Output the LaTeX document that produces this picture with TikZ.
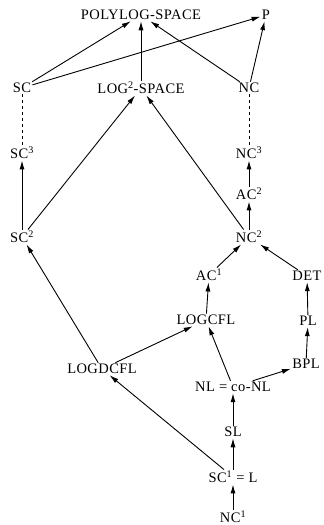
\documentclass[tikz,border=0pt]{standalone}
\usepackage{fontspec}
\setmainfont{Liberation Serif}[LetterSpace=3]
\usetikzlibrary{arrows.meta}
\begin{document}
\begin{tikzpicture}[x=1pt,y=1pt,
  cls/.style={inner sep=1.2pt, font=\fontsize{14.5}{16}\selectfont},
  arr/.style={-{Latex[length=9pt,width=5pt]}, line width=0.9pt},
  dsh/.style={dashed, line width=0.7pt}]
\useasboundingbox (0,0) rectangle (324,525);
\node[cls] (poly) at (141,510) {POLYLOG-SPACE};
\node[cls] (P) at (266,510) {P};
\node[cls] (SC) at (22,437) {SC};
\node[cls] (log2) at (141,437) {LOG\textsuperscript{2}-SPACE};
\node[cls] (NC) at (249,437) {NC};
\node[cls] (SC3) at (22,372) {SC\textsuperscript{3}};
\node[cls] (NC3) at (249,372) {NC\textsuperscript{3}};
\node[cls] (AC2) at (249,331) {AC\textsuperscript{2}};
\node[cls] (SC2) at (22,288) {SC\textsuperscript{2}};
\node[cls] (NC2) at (249,288) {NC\textsuperscript{2}};
\node[cls] (AC1) at (209,250) {AC\textsuperscript{1}};
\node[cls] (DET) at (307,249) {DET};
\node[cls] (LOGCFL) at (206,205) {LOGCFL};
\node[cls] (PL) at (308,204) {PL};
\node[cls] (LOGDCFL) at (102,156) {LOGDCFL};
\node[cls] (BPL) at (306,161) {BPL};
\node[cls] (NL) at (233,138) {NL = co-NL};
\node[cls] (SL) at (233,93) {SL};
\node[cls] (L) at (233,48) {SC\textsuperscript{1} = L};
\node[cls] (NC1) at (233,8) {NC\textsuperscript{1}};

\draw[arr] (SC) -- (poly);
\draw[arr] (SC) -- (P);
\draw[arr] (log2) -- (poly);
\draw[arr] (NC) -- (poly);
\draw[arr] (NC) -- (P);
\draw[dsh] (SC) -- (SC3);
\draw[dsh] (NC) -- (NC3);
\draw[arr] (SC2) -- (SC3);
\draw[arr] (SC2) -- (log2);
\draw[arr] (NC2) -- (log2);
\draw[arr] (AC2) -- (NC3);
\draw[arr] (NC2) -- (AC2);
\draw[arr] (AC1) -- (NC2);
\draw[arr] (DET) -- (NC2);
\draw[arr] (LOGCFL) -- (AC1);
\draw[arr] (LOGDCFL) -- (SC2);
\draw[arr] (LOGDCFL) -- (LOGCFL);
\draw[arr] (NL) -- (LOGCFL);
\draw[arr] (NL) -- (BPL);
\draw[arr] (BPL) -- (PL);
\draw[arr] (PL) -- (DET);
\draw[arr] (SL) -- (NL);
\draw[arr] (L) -- (SL);
\draw[arr] (L) -- (LOGDCFL);
\draw[arr] (NC1) -- (L);
\end{tikzpicture}
\end{document}
